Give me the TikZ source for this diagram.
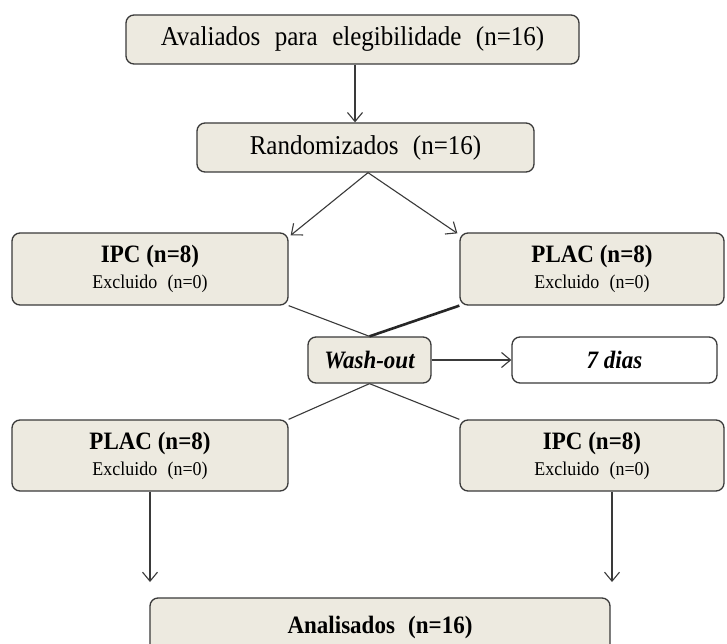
\documentclass[tikz,border=0pt]{standalone}
\usepackage{fontspec}
\setmainfont{Liberation Serif}[FakeStretch=0.92]
\usetikzlibrary{arrows.meta}
\definecolor{boxfill}{HTML}{EDEAE0}
\definecolor{edge}{HTML}{3A3A3A}
\newcommand\boxtitle[1]{{\fontsize{25}{29}\selectfont\bfseries #1}}
\newcommand\boxnote[1]{{\fontsize{19.5}{22}\selectfont #1}}
\newcommand\wsp{\hspace{0.3em}}
\tikzset{
  base/.style={draw=edge, line width=1.3pt, rounded corners=8pt, inner sep=0pt, align=center},
  fbox/.style={base, fill=boxfill},
  wbox/.style={base, fill=white},
  conn/.style={draw=edge, line width=1.1pt},
  arr/.style={conn, -{Straight Barb[length=9pt,width=15pt,line width=1.1pt]}},
  thick line/.style={draw=black!85, line width=2.6pt}
}
\begin{document}
\begin{tikzpicture}[x=1pt,y=-1pt]
\clip (0,0) rectangle (727,644);
\useasboundingbox (0,0) rectangle (727,644);
\fill[white] (0,0) rectangle (727,644);

\node[fbox, minimum width=453pt, minimum height=49pt, font=\fontsize{27.2}{32}\selectfont] (top) at (352.5,39.5)
  {Avaliados\wsp{} para\wsp{} elegibilidade\wsp{} (n=16)};
\node[fbox, minimum width=337pt, minimum height=49pt, font=\fontsize{27.2}{32}\selectfont] (rand) at (365.5,147.5)
  {Randomizados\wsp{} (n=16)};

\node[fbox, minimum width=276pt, minimum height=72pt] (ipc1) at (150,269)
  {\boxtitle{IPC (n=8)}\\[6pt]\boxnote{Excluido\wsp{} (n=0)}};
\node[fbox, minimum width=264pt, minimum height=72pt] (plac1) at (592,269)
  {\boxtitle{PLAC (n=8)}\\[6pt]\boxnote{Excluido\wsp{} (n=0)}};

\node[fbox, minimum width=123pt, minimum height=46pt, font=\fontsize{25}{29}\selectfont\bfseries\itshape] (wash) at (369.5,360)
  {Wash-out};
\node[wbox, minimum width=205pt, minimum height=46pt, font=\fontsize{25}{29}\selectfont\bfseries\itshape] (dias) at (614.5,360)
  {7 dias};

\node[fbox, minimum width=276pt, minimum height=71pt] (plac2) at (150,455.5)
  {\boxtitle{PLAC (n=8)}\\[6pt]\boxnote{Excluido\wsp{} (n=0)}};
\node[fbox, minimum width=264pt, minimum height=71pt] (ipc2) at (592,455.5)
  {\boxtitle{IPC (n=8)}\\[6pt]\boxnote{Excluido\wsp{} (n=0)}};

\node[fbox, minimum width=460pt, minimum height=60pt, text height=17pt, font=\fontsize{25}{29}\selectfont\bfseries] (anal) at (380,628)
  {Analisados\wsp{} (n=16)};

\coordinate (lev) at (0,582);

\draw[arr] ([xshift=2.5pt]top.south) -- ([xshift=2.5pt]top.south |- rand.north);
\draw[arr] ([xshift=2.5pt]rand.south) -- ([xshift=2pt,yshift=-3pt]ipc1.north east);
\draw[arr] ([xshift=2.5pt]rand.south) -- ([xshift=-2pt,yshift=-1pt]plac1.north west);
\draw[conn] (ipc1.south east) -- (wash.north);
\draw[thick line] (plac1.south west) -- (wash.north);
\draw[arr] (wash.east) -- (dias.west);
\draw[conn] (wash.south) -- (plac2.north east);
\draw[conn] (wash.south) -- (ipc2.north west);
\draw[arr] (plac2.south) -- (plac2.south |- lev);
\draw[arr] ([xshift=20pt]ipc2.south) -- ([xshift=20pt]ipc2.south |- lev);
\end{tikzpicture}
\end{document}
